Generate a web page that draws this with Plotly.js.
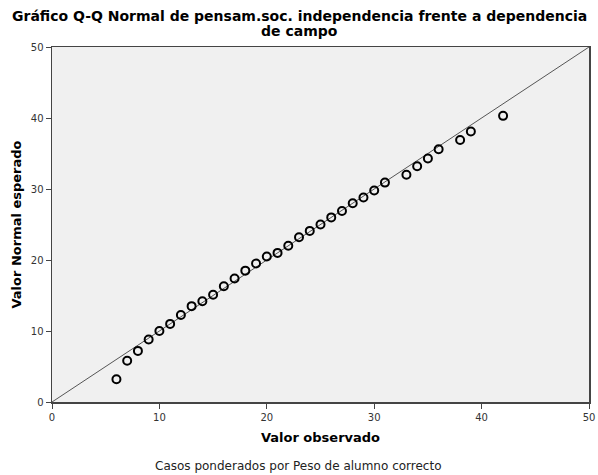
<!DOCTYPE html>
<html>
<head>
<meta charset="utf-8">
<script src="https://cdn.plot.ly/plotly-3.0.1.min.js"></script>
<style>html,body{margin:0;padding:0;background:#fff;}#chart{width:598px;height:475px;}</style>
</head>
<body>
<div id="chart"></div>
<script>
var observed = [6,7,8,9,10,11,12,13,14,15,16,17,18,19,20,21,22,23,24,25,26,27,28,29,30,31,33,34,35,36,38,39,42];
var expected = [3.2,5.8,7.2,8.8,10.0,11.0,12.25,13.5,14.2,15.1,16.3,17.4,18.5,19.5,20.5,21.0,22.0,23.2,24.1,25.0,26.0,26.9,28.0,28.8,29.8,30.9,32.0,33.2,34.3,35.6,36.9,38.1,40.3];
var refLine = [0,50];
var tickVals = [0,10,20,30,40,50];
var titleLine1 = "Gráfico Q-Q Normal de pensam.soc. independencia frente a dependencia";
var titleLine2 = "de campo";
var xTitle = "Valor observado";
var yTitle = "Valor Normal esperado";
var footnote = "Casos ponderados por Peso de alumno correcto";

var font = "DejaVu Sans, sans-serif";
var traces = [
  {x: refLine, y: refLine, mode: 'lines', line: {color: '#555', width: 1}, hoverinfo: 'skip'},
  {x: observed, y: expected, mode: 'markers',
   marker: {symbol: 'circle-open', size: 8, color: '#000', line: {width: 2, color: '#000'}}}
];
var axisCommon = {
  range: [0,50], tickvals: tickVals, ticks: 'outside', ticklen: 5, tickcolor: '#444', tickwidth: 1,
  showline: true, mirror: true, linecolor: '#444', linewidth: 1.5,
  showgrid: false, zeroline: false, tickfont: {family: font, size: 10, color: '#333'}
};
function paperY(px) { return (402 - px) / 355; }
function paperX(px) { return (px - 52) / 537; }
var layout = {
  width: 598, height: 475,
  margin: {l: 52, r: 9, t: 47, b: 73},
  paper_bgcolor: '#fff', plot_bgcolor: '#f0f0f0',
  showlegend: false,
  font: {family: font},
  xaxis: Object.assign({}, axisCommon, {title: {text: '<b>' + xTitle + '</b>', font: {family: font, size: 13, color: '#000'}, standoff: 11}}),
  yaxis: Object.assign({}, axisCommon, {title: {text: '<b>' + yTitle + '</b>', font: {family: font, size: 13, color: '#000'}, standoff: 6}}),
  annotations: [
    {text: '<b>' + titleLine1 + '</b>', xref: 'paper', yref: 'paper', x: paperX(299), y: paperY(16), xanchor: 'center', yanchor: 'middle',
     showarrow: false, font: {family: font, size: 14, color: '#000'}},
    {text: '<b>' + titleLine2 + '</b>', xref: 'paper', yref: 'paper', x: paperX(299), y: paperY(31), xanchor: 'center', yanchor: 'middle',
     showarrow: false, font: {family: font, size: 14, color: '#000'}},
    {text: footnote, xref: 'paper', yref: 'paper', x: paperX(298), y: paperY(466), xanchor: 'center', yanchor: 'middle',
     showarrow: false, font: {family: font, size: 12, color: '#222'}}
  ]
};
Plotly.newPlot('chart', traces, layout, {displayModeBar: false, staticPlot: true});
</script>
</body>
</html>
